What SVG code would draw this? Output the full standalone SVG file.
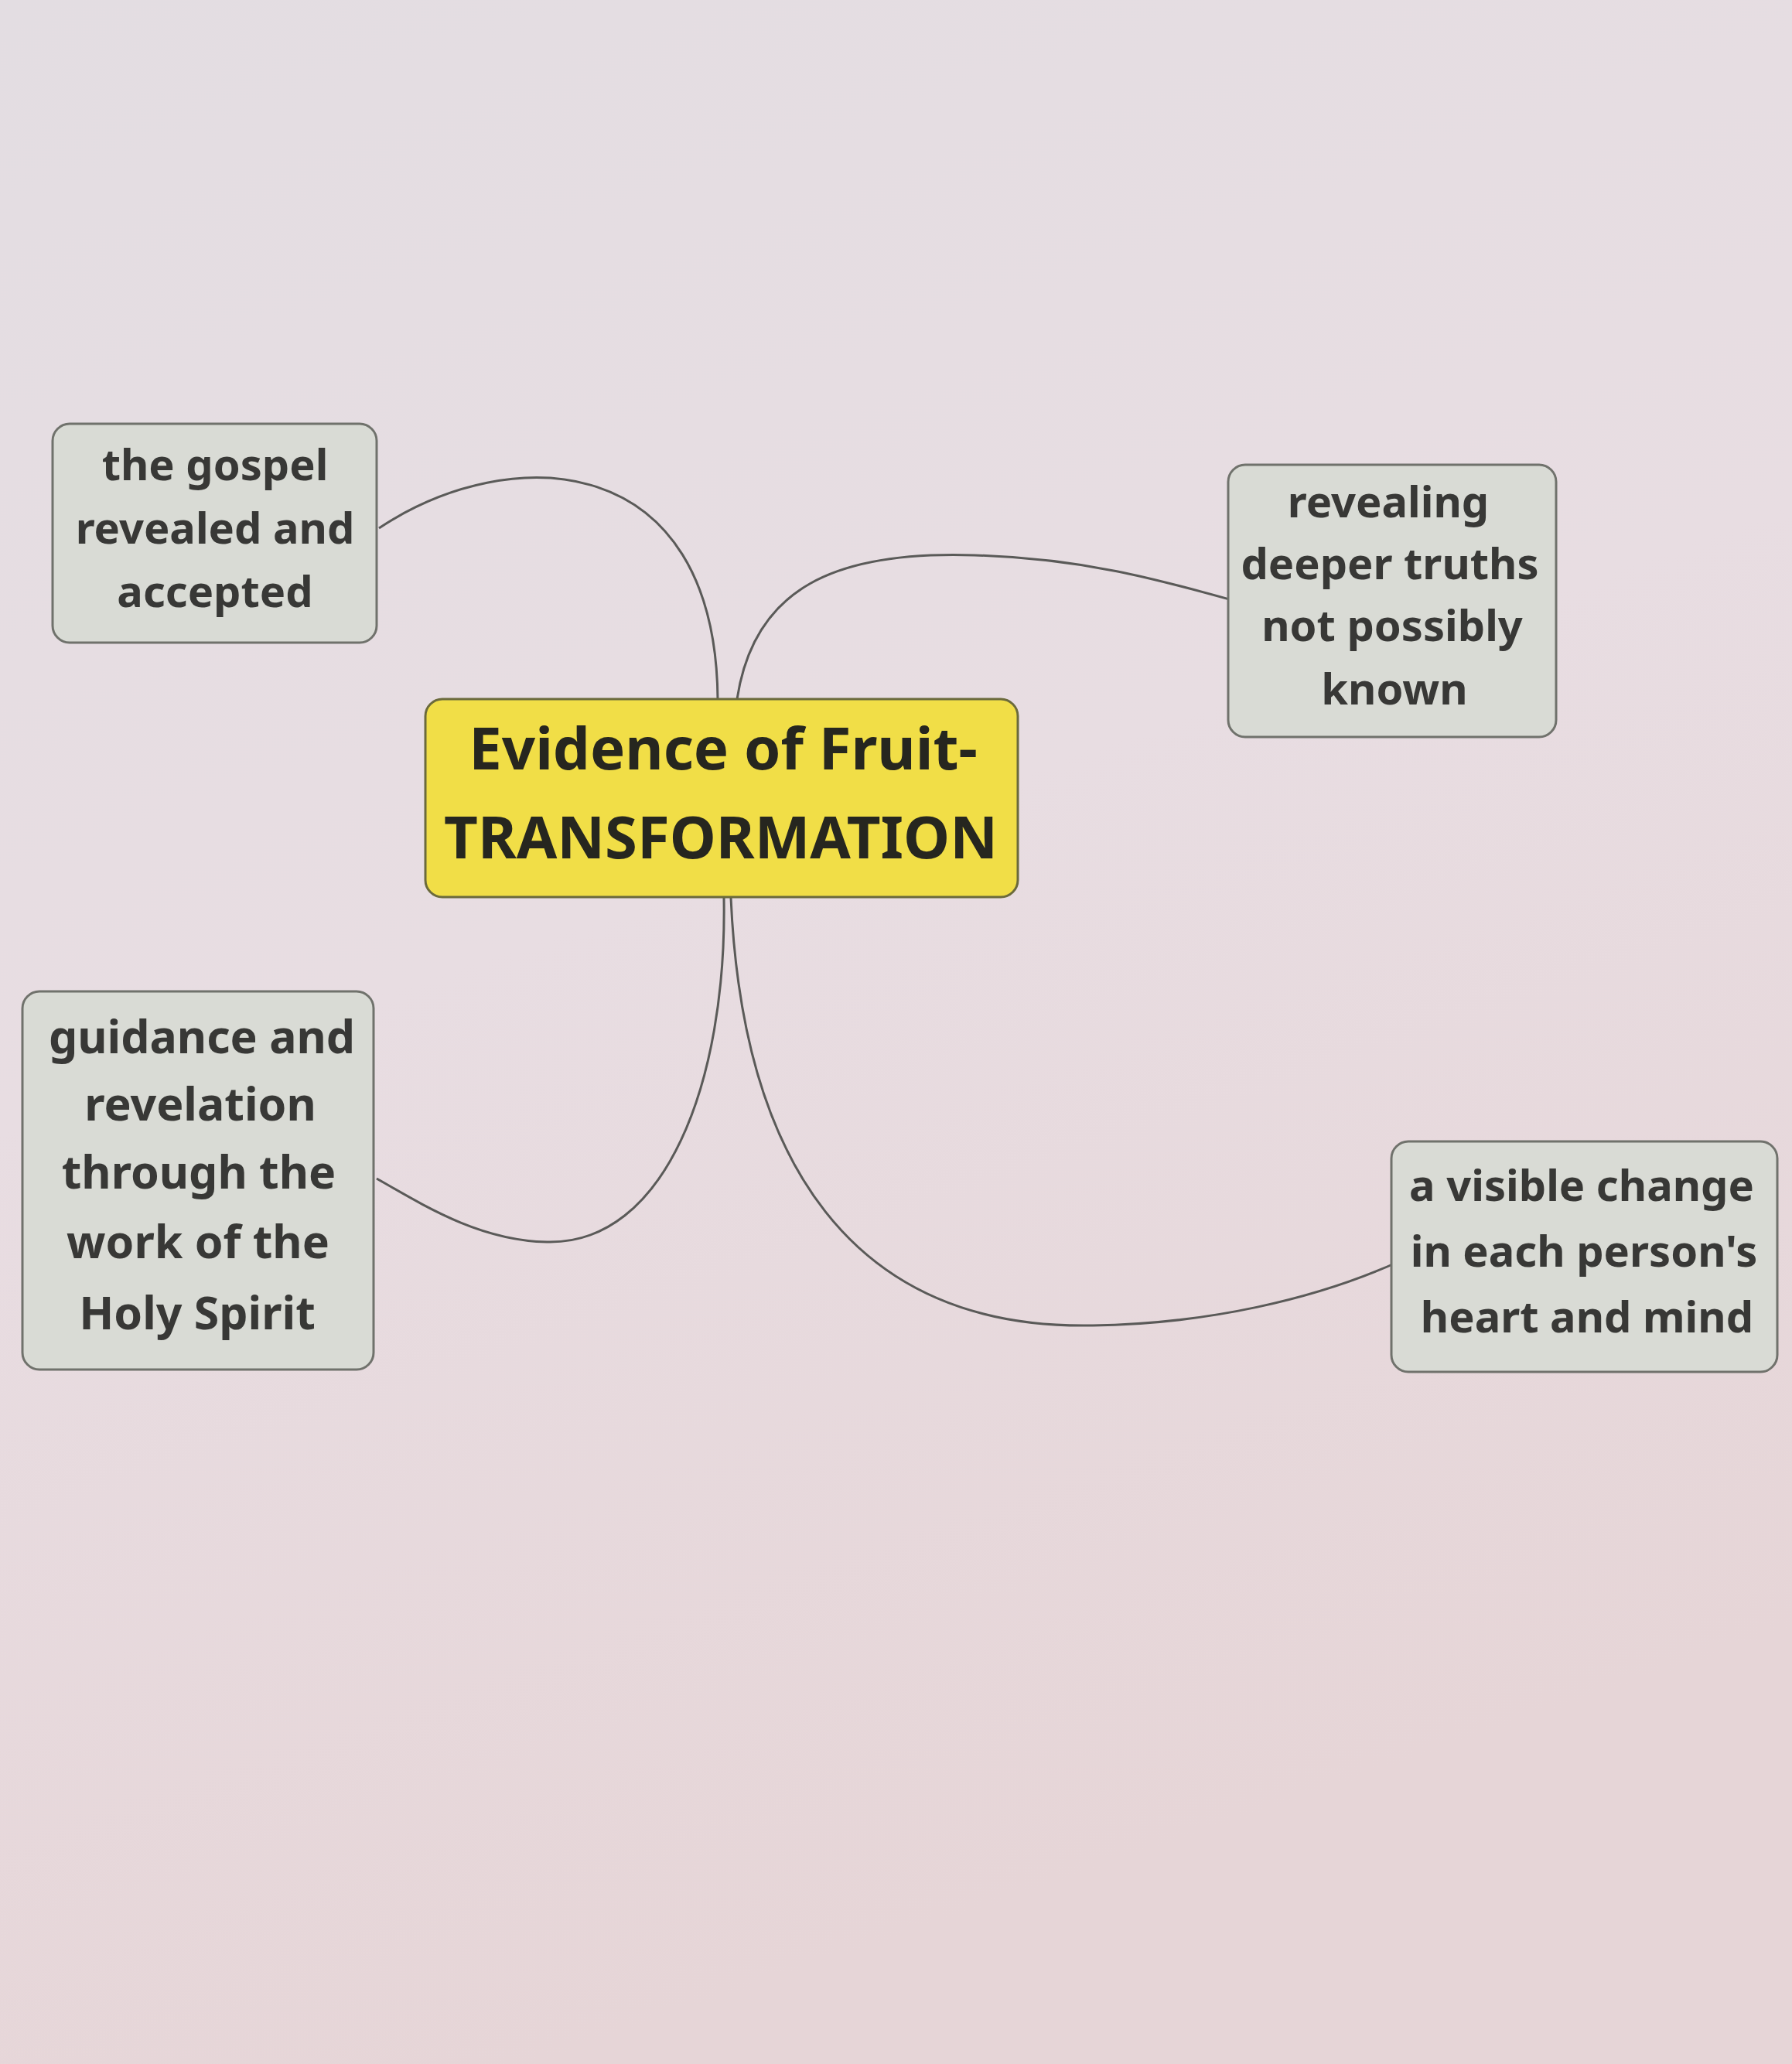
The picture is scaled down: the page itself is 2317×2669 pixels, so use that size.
<svg xmlns="http://www.w3.org/2000/svg" width="2317" height="2669" viewBox="0 0 2317 2669">
<defs>
<linearGradient id="bg" x1="0" y1="0" x2="0.3" y2="1">
<stop offset="0" stop-color="#e3dde2"/>
<stop offset="0.5" stop-color="#e8dde2"/>
<stop offset="1" stop-color="#e6d5d7"/>
</linearGradient>
<style>
.sub rect{fill:#d9dbd5;stroke:#70726c;stroke-width:3}
.sub text{font-family:"Noto Sans","Open Sans",sans-serif;font-weight:bold;font-size:56px;fill:#383836;text-anchor:middle}
.sub text.big{font-size:59px}
.main rect{fill:#f1de47;stroke:#6b6a3c;stroke-width:3}
.main text{font-family:"Noto Sans","Open Sans",sans-serif;font-weight:bold;font-size:76px;fill:#26261f;text-anchor:middle}
.conn path{fill:none;stroke:#5a5a58;stroke-width:3}
</style>
</defs>
<rect width="2317" height="2669" fill="url(#bg)"/>
<g class="conn" id="connectors">
<path d="M490,683 C660,570 925,580 928,904"/>
<path d="M953,904 C975,760 1080,712 1260,718 C1400,722 1500,750 1593,776"/>
<path d="M936,1161 C940,1400 860,1610 707,1606 C620,1604 550,1560 487,1524"/>
<path d="M945,1161 C960,1500 1100,1720 1413,1714 C1560,1712 1700,1680 1805,1633"/>
</g>
<g class="main" id="node-center">
<rect x="550" y="904" width="766" height="256" rx="22"/>
<text x="935" y="995">Evidence of Fruit-</text>
<text x="932" y="1110">TRANSFORMATION</text>
</g>
<g class="sub" id="node-gospel">
<rect x="68" y="548" width="419" height="283" rx="22"/>
<text x="278" y="621">the gospel</text>
<text x="278" y="703">revealed and</text>
<text x="278" y="785">accepted</text>
</g>
<g class="sub" id="node-revealing">
<rect x="1588" y="601" width="424" height="352" rx="22"/>
<text x="1795" y="669">revealing</text>
<text x="1797" y="749">deeper truths</text>
<text x="1800" y="829">not possibly</text>
<text x="1803" y="911">known</text>
</g>
<g class="sub" id="node-guidance">
<rect x="29" y="1282" width="454" height="489" rx="22"/>
<text class="big" x="261" y="1362">guidance and</text>
<text class="big" x="259" y="1449">revelation</text>
<text class="big" x="257" y="1537">through the</text>
<text class="big" x="256" y="1627">work of the</text>
<text class="big" x="255" y="1719">Holy Spirit</text>
</g>
<g class="sub" id="node-change">
<rect x="1799" y="1476" width="499" height="298" rx="22"/>
<text x="2045" y="1553">a visible change</text>
<text x="2048" y="1638">in each person's</text>
<text x="2052" y="1723">heart and mind</text>
</g>
</svg>
